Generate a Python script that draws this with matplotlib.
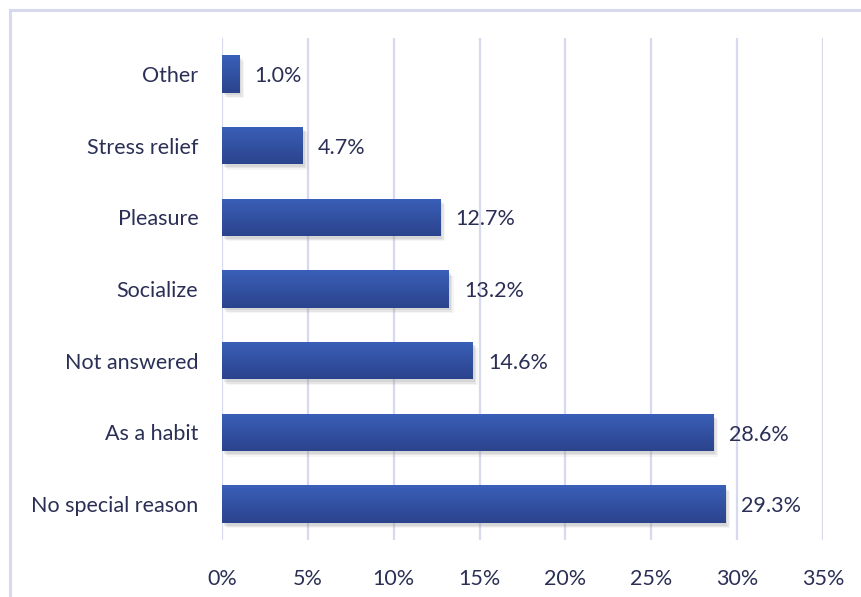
import matplotlib
matplotlib.use("Agg")
import matplotlib.pyplot as plt
import numpy as np
from matplotlib import patheffects
from matplotlib.patches import Rectangle
from matplotlib.colors import LinearSegmentedColormap

categories = ["No special reason", "As a habit", "Not answered", "Socialize",
              "Pleasure", "Stress relief", "Other"]
values = [29.3, 28.6, 14.6, 13.2, 12.7, 4.7, 1.0]
xticks = [0, 5, 10, 15, 20, 25, 30, 35]

text_color = "#2b2f55"
grid_color = "#d7daee"

plt.rcParams["font.family"] = ["Lato", "DejaVu Sans"]

fig = plt.figure(figsize=(8.61, 5.97), dpi=100)
ax = fig.add_axes([222 / 861, 1 - 540 / 597, 601 / 861, 502 / 597])

# outer chart frame
fig.patches.append(Rectangle((10 / 861, -0.1), 1.2, 1 - 10 / 597 + 0.1,
                             transform=fig.transFigure, fill=False,
                             edgecolor=grid_color, linewidth=2.2))

# soft drop shadow built from a few stacked translucent offsets
shadow = [patheffects.SimplePatchShadow(offset=(o, -o - 0.5), shadow_rgbFace="#808080",
                                        alpha=a)
          for o, a in [(3.5, 0.08), (2.5, 0.12), (1.5, 0.15)]]

y = np.arange(len(categories))
bars = ax.barh(y, values, height=0.52, color="#3356a8", zorder=3,
               path_effects=shadow + [patheffects.Normal()])

# vertical gradient fill on each bar: lighter at the top, darker at the bottom
cmap = LinearSegmentedColormap.from_list("bar", ["#3a60b9", "#2b438c"])
grad = np.linspace(0, 1, 256).reshape(-1, 1)
for b in bars:
    x0, y0 = b.get_x(), b.get_y()
    w, h = b.get_width(), b.get_height()
    im = ax.imshow(grad, cmap=cmap, aspect="auto", origin="lower",
                   extent=(x0, x0 + w, y0 + h, y0), zorder=4)
    im.set_clip_path(b)

for v, yy in zip(values, y):
    ax.text(v + 0.9, yy - 0.03, f"{v:.1f}%", va="center", ha="left",
            fontsize=15.5, color=text_color, zorder=5)

ax.set_xlim(0, 35)
ax.set_ylim(-0.5, len(categories) - 0.5)
ax.set_xticks(xticks)
ax.set_xticklabels([f"{t}%" for t in xticks])
ax.set_yticks(y)
ax.set_yticklabels(categories)
ax.tick_params(axis="both", length=0, labelsize=15.5, labelcolor=text_color)
ax.tick_params(axis="x", pad=21)
ax.tick_params(axis="y", pad=17)
ax.grid(axis="x", color=grid_color, linewidth=1.6, zorder=0)
ax.set_axisbelow(True)
for s in ax.spines.values():
    s.set_visible(False)

fig.savefig("out.png", dpi=100)
